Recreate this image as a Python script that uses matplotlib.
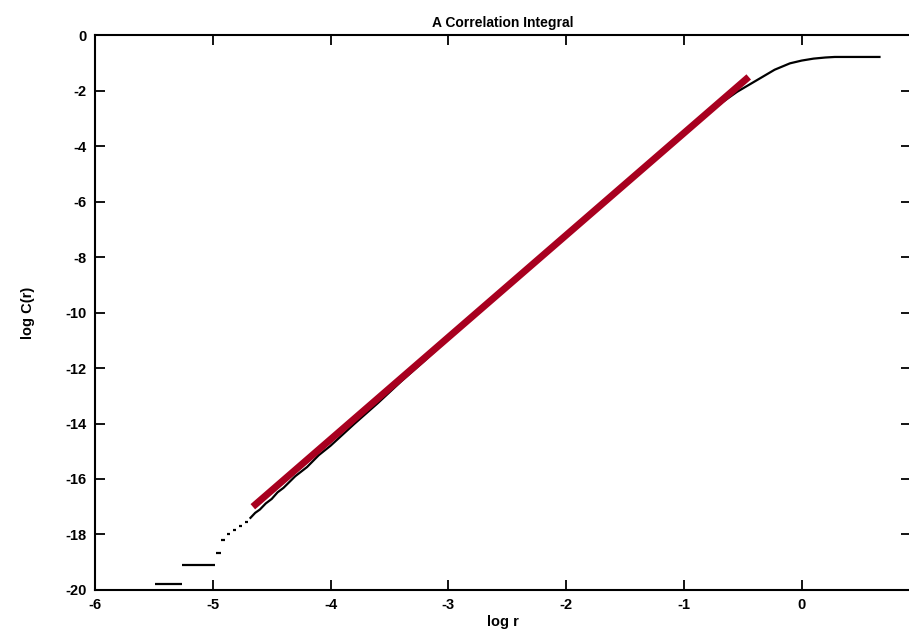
#!/usr/bin/env python3
import numpy as np
import matplotlib.pyplot as plt

plt.rcParams['font.family'] = ['Liberation Sans', 'DejaVu Sans']
plt.rcParams['axes.unicode_minus'] = False

# кривая корреляционного интеграла
log_r = [-4.68, -4.64, -4.60, -4.55, -4.50, -4.45, -4.40, -4.30, -4.20, -4.10,
         -4.00, -3.80, -3.60, -3.40, -3.20, -3.00, -2.70, -2.40, -2.10, -1.80,
         -1.50, -1.20, -1.00, -0.85, -0.70, -0.55, -0.45, -0.35, -0.23, -0.10,
         0.00, 0.10, 0.20, 0.28, 0.40, 0.55, 0.66]
log_c = [-17.40, -17.22, -17.10, -16.88, -16.72, -16.48, -16.32, -15.90, -15.57, -15.14,
         -14.80, -14.02, -13.27, -12.48, -11.73, -10.95, -9.82, -8.70, -7.58, -6.48,
         -5.38, -4.28, -3.56, -3.02, -2.50, -2.05, -1.80, -1.55, -1.25, -1.02,
         -0.92, -0.85, -0.81, -0.79, -0.79, -0.79, -0.79]

# ступеньки внизу слева: начало, конец, уровень
step_x0 = [-5.49, -5.26, -4.97, -4.93, -4.88, -4.83, -4.78, -4.73]
step_x1 = [-5.26, -4.98, -4.93, -4.90, -4.85, -4.80, -4.75, -4.70]
step_y = [-19.78, -19.10, -18.67, -18.20, -18.00, -17.85, -17.70, -17.55]

# прямая аппроксимации
fit_x = [-4.66, -0.45]
fit_y = [-17.0, -1.51]

fig = plt.figure(figsize=(9.09, 6.37), dpi=100)
ax = fig.add_axes([0.1045, 0.0738, 0.898, 0.8712])

ax.plot(log_r, log_c, color='black', lw=1.6)
ax.hlines(step_y, step_x0, step_x1, color='black', lw=1.6)
ax.plot(fit_x, fit_y, color='#a8001f', lw=5.0, solid_capstyle='butt')

ax.set_xlim(-6, 0.93)
ax.set_ylim(-20, 0)
ax.set_xticks(range(-6, 1))
ax.set_yticks(range(-20, 1, 2))
ax.tick_params(direction='in', length=7, width=1.3, top=True, right=True,
               labelsize=10.5, pad=6)
for s in ax.spines.values():
    s.set_linewidth(1.5)

ax.set_title('A Correlation Integral', fontsize=10, fontweight='bold', pad=6)
ax.set_xlabel('log r', fontsize=10.5, fontweight='bold', labelpad=2)
ax.set_ylabel('log C(r)', fontsize=10.5, fontweight='bold', labelpad=22)
for lab in ax.get_xticklabels() + ax.get_yticklabels():
    lab.set_fontweight('bold')

fig.savefig('out.png', dpi=100)
